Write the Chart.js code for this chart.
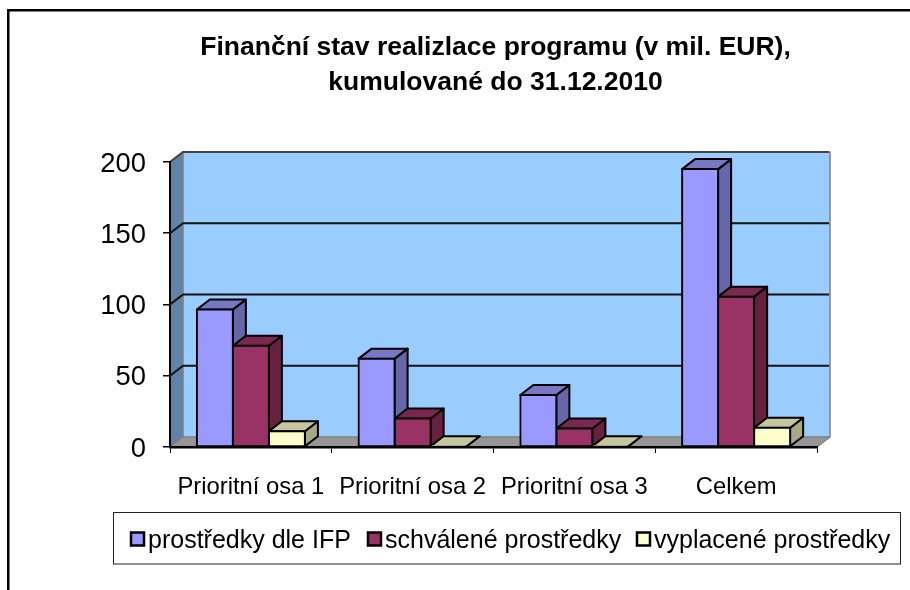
<!DOCTYPE html>
<html><head><meta charset="utf-8">
<style>html,body{margin:0;padding:0;background:#fff}#w{width:910px;height:590px}</style>
<script src="https://cdn.jsdelivr.net/npm/chart.js@4"></script>
</head><body><div id="w"><canvas id="c" width="910" height="590"></canvas></div>
<script>
const categories = ['Prioritní osa 1','Prioritní osa 2','Prioritní osa 3','Celkem'];
const prostredkyIFP = [96.5, 62, 36.5, 195];
const schvalene = [71, 20, 13, 105.5];
const vyplacene = [11, 0.5, 0.5, 13.5];
const seriesNames = ['prostředky dle IFP','schválené prostředky','vyplacené prostředky'];
const yTicks = [0,50,100,150,200];
const titleLines = ['Finanční stav realizlace programu (v mil. EUR),','kumulované do 31.12.2010'];

const FONT = '"Liberation Sans", Arial, sans-serif';
const DX = 13, DY = -10;
const front = ['#9999FF','#993366','#FFFFCC'];
const topC  = ['#7777C4','#7A2850','#C6C69E'];
const sideC = ['#6666A8','#66213F','#A8A884'];
const legendX = [131, 368, 637];

function poly(ctx, pts, fill, stroke, lw){
  ctx.beginPath();
  pts.forEach((p,i)=> i?ctx.lineTo(p[0],p[1]):ctx.moveTo(p[0],p[1]));
  ctx.closePath();
  if(fill){ctx.fillStyle=fill;ctx.fill();}
  if(stroke){ctx.strokeStyle=stroke;ctx.lineWidth=lw;ctx.lineJoin='round';ctx.stroke();}
}

const scene = {
  id:'scene',
  afterLayout(chart){
    if(chart.titleBlock){chart.titleBlock.left+=2;chart.titleBlock.right+=2;}
  },
  beforeDraw(chart){
    const {ctx, chartArea:a, scales:{y}} = chart;
    ctx.save();
    ctx.fillStyle='#fff'; ctx.fillRect(0,0,chart.width,chart.height);
    ctx.fillStyle='#000';
    ctx.fillRect(7,9,903,2.5);
    ctx.fillRect(7,9,2.5,581);
    const L=a.left,R=a.right,T=a.top,B=a.bottom;
    // side wall, floor, back wall
    poly(ctx,[[L,T],[L+DX,T+DY],[L+DX,B+DY],[L,B]],'#6083A8');
    poly(ctx,[[L,B],[L+DX,B+DY],[R+DX,B+DY],[R,B]],'#969696');
    poly(ctx,[[L+DX,T+DY],[R+DX,T+DY],[R+DX,B+DY],[L+DX,B+DY]],'#99CCFF');
    // outline of the back wall
    ctx.strokeStyle='#808080'; ctx.lineWidth=1.5;
    ctx.beginPath();
    ctx.moveTo(L,T);ctx.lineTo(L+DX,T+DY);ctx.lineTo(R+DX,T+DY);ctx.lineTo(R+DX,B+DY);ctx.lineTo(R,B);
    ctx.moveTo(L+DX,T+DY);ctx.lineTo(L+DX,B+DY);ctx.lineTo(L,B);
    ctx.moveTo(L+DX,B+DY);ctx.lineTo(R+DX,B+DY);
    ctx.stroke();
    // gridlines on back wall, with diagonals across the side wall
    yTicks.slice(1).forEach(v=>{
      const p=y.getPixelForValue(v);
      ctx.strokeStyle = v===200 ? '#444' : '#111'; ctx.lineWidth=2;
      ctx.beginPath();ctx.moveTo(L,p);ctx.lineTo(L+DX,p+DY);ctx.lineTo(R+DX-1,p+DY);ctx.stroke();
    });
    ctx.restore();
  },
  beforeDatasetsDraw(chart){
    const ctx=chart.ctx; ctx.save();
    const n=chart.data.labels.length;
    for(let i=0;i<n;i++){
      chart.data.datasets.forEach((ds,k)=>{
        const b=chart.getDatasetMeta(k).data[i];
        const l=b.x-b.width/2,r=b.x+b.width/2,t=b.y,bt=b.base;
        poly(ctx,[[r,t],[r+DX,t+DY],[r+DX,bt+DY],[r,bt]],sideC[k],'#000',2);
        poly(ctx,[[l,t],[l+DX,t+DY],[r+DX,t+DY],[r,t]],topC[k],'#000',2);
      });
    }
    ctx.restore();
  },
  afterDraw(chart){
    const ctx=chart.ctx; ctx.save();
    ctx.strokeStyle='#222'; ctx.lineWidth=1; ctx.fillStyle='#fff';
    ctx.strokeRect(113.5,512.5,787,51.5);
    ctx.font='25px '+FONT; ctx.textBaseline='alphabetic'; ctx.textAlign='left';
    chart.data.datasets.forEach((ds,k)=>{
      const x=legendX[k];
      ctx.fillStyle=front[k]; ctx.strokeStyle='#000'; ctx.lineWidth=2.5;
      ctx.fillRect(x,532.5,13,13); ctx.strokeRect(x,532.5,13,13);
      ctx.fillStyle='#000';
      ctx.fillText(ds.label,x+17,548);
    });
    ctx.restore();
  }
};

const mk=(k,data)=>({label:seriesNames[k],data,backgroundColor:front[k],borderColor:'#000',borderWidth:2,inflateAmount:1,borderSkipped:false,clip:false});

new Chart(document.getElementById('c'),{
  type:'bar',
  data:{labels:categories,datasets:[mk(0,prostredkyIFP),mk(1,schvalene),mk(2,vyplacene)]},
  plugins:[scene],
  options:{
    responsive:false,animation:false,devicePixelRatio:1,
    layout:{padding:{left:100,right:93,top:0,bottom:0}},
    plugins:{
      legend:{display:false},tooltip:{enabled:false},
      title:{display:true,text:titleLines,fullSize:false,color:'#000',
        font:{family:FONT,size:26.5,weight:'bold',lineHeight:1.32},
        padding:{top:30,bottom:62}}
    },
    scales:{
      x:{
        afterFit(s){s.height=143;},
        grid:{display:true,drawOnChartArea:false,drawTicks:true,tickLength:6,color:'#000',lineWidth:1,offset:true},
        border:{display:true,color:'#000',width:2.5,z:1},
        ticks:{color:'#000',font:{family:FONT,size:23.8},maxRotation:0,autoSkip:false,padding:20}
      },
      y:{
        min:0,max:200,
        afterFit(s){s.width=70;},
        afterBuildTicks(s){s.ticks=yTicks.map(v=>({value:v}));},
        grid:{display:true,drawOnChartArea:false,drawTicks:true,tickLength:7,color:'#000',lineWidth:1.5},
        border:{display:true,color:'#000',width:2},
        ticks:{color:'#000',font:{family:FONT,size:27.4},padding:17,labelOffset:2}
      }
    },
    datasets:{bar:{categoryPercentage:0.668,barPercentage:1}}
  }
});
</script></body></html>
